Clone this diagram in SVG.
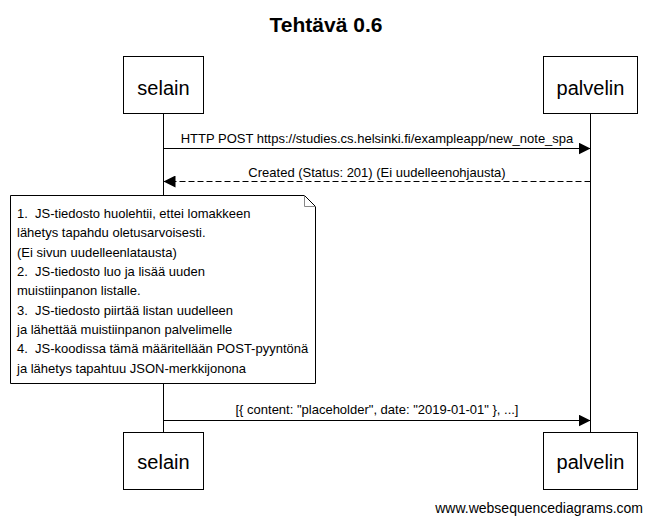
<svg xmlns="http://www.w3.org/2000/svg" width="652" height="523" viewBox="0 0 652 523">
<defs>
<style>
text{font-family:"Liberation Sans",Arial,sans-serif;fill:#000}
.box{fill:#fff;stroke:#000;stroke-width:1}
.life{stroke:#000;stroke-width:1;fill:none}
.msg{stroke:#000;stroke-width:1;fill:none}
.dash{stroke-dasharray:6,3}
.actor{font-size:20px;text-anchor:middle}
.lbl{font-size:13px;text-anchor:middle}
.note{font-size:13px;white-space:pre}
</style>
<marker id="ah" markerWidth="12" markerHeight="12" refX="12" refY="6" orient="auto" markerUnits="userSpaceOnUse">
<path d="M0,0 L12,6 L0,12 Z" fill="#000"/>
</marker>
</defs>
<rect width="652" height="523" fill="#fff"/>
<text x="326" y="32" font-size="21" font-weight="bold" text-anchor="middle">Tehtävä 0.6</text>
<g id="lifelines">
<line class="life" x1="163.5" y1="113" x2="163.5" y2="433"/>
<line class="life" x1="590.5" y1="113" x2="590.5" y2="433"/>
</g>
<g id="selain-top"><rect class="box" x="123.5" y="56.5" width="80" height="57"/><text class="actor" x="163.5" y="95">selain</text></g>
<g id="palvelin-top"><rect class="box" x="543.5" y="56.5" width="94" height="57"/><text class="actor" x="590.5" y="95">palvelin</text></g>
<g id="selain-bottom"><rect class="box" x="123.5" y="432.5" width="80" height="57"/><text class="actor" x="163.5" y="469">selain</text></g>
<g id="palvelin-bottom"><rect class="box" x="543.5" y="432.5" width="94" height="57"/><text class="actor" x="590.5" y="469">palvelin</text></g>
<g id="connectors">
<line class="msg" x1="163.5" y1="148.5" x2="590.5" y2="148.5" marker-end="url(#ah)"/>
<text class="lbl" x="377" y="143">HTTP POST https://studies.cs.helsinki.fi/exampleapp/new_note_spa</text>
<line class="msg dash" x1="590.5" y1="181.5" x2="163.5" y2="181.5" marker-end="url(#ah)"/>
<text class="lbl" x="377" y="176.5">Created (Status: 201) (Ei uudelleenohjausta)</text>
<line class="msg" x1="163.5" y1="420.5" x2="590.5" y2="420.5" marker-end="url(#ah)"/>
<text class="lbl" x="377" y="414">[{ content: "placeholder", date: "2019-01-01" }, ...]</text>
</g>
<g id="note">
<path class="box" d="M10.5,195.5 H304.5 L315.5,206.5 V383.5 H10.5 Z"/>
<path d="M304.5,195.5 V206.5 H315.5" fill="none" stroke="#888" stroke-width="1"/>
<text class="note" xml:space="preserve" x="17" y="218">1.  JS-tiedosto huolehtii, ettei lomakkeen</text>
<text class="note" x="17" y="237">lähetys tapahdu oletusarvoisesti.</text>
<text class="note" x="17" y="256.5">(Ei sivun uudelleenlatausta)</text>
<text class="note" xml:space="preserve" x="17" y="276">2.  JS-tiedosto luo ja lisää uuden</text>
<text class="note" x="17" y="295">muistiinpanon listalle.</text>
<text class="note" xml:space="preserve" x="17" y="314.5">3.  JS-tiedosto piirtää listan uudelleen</text>
<text class="note" x="17" y="334">ja lähettää muistiinpanon palvelimelle</text>
<text class="note" xml:space="preserve" x="17" y="353">4.  JS-koodissa tämä määritellään POST-pyyntönä</text>
<text class="note" x="17" y="372.5">ja lähetys tapahtuu JSON-merkkijonona</text>
</g>
<text x="643" y="513" font-size="14" text-anchor="end">www.websequencediagrams.com</text>
</svg>
